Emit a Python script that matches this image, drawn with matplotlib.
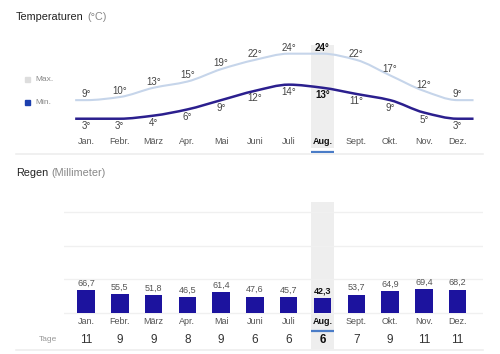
import matplotlib
matplotlib.use("Agg")
import matplotlib.pyplot as plt
import numpy as np
from matplotlib.path import Path
from matplotlib.patches import PathPatch, Rectangle
from matplotlib.lines import Line2D

plt.rcParams['font.family'] = ['Liberation Sans', 'DejaVu Sans']

# data
months = ['Jan.', 'Febr.', 'März', 'Apr.', 'Mai', 'Juni', 'Juli', 'Aug.', 'Sept.', 'Okt.', 'Nov.', 'Dez.']
temp_max = [9, 10, 13, 15, 19, 22, 24, 24, 22, 17, 12, 9]
temp_min = [3, 3, 4, 6, 9, 12, 14, 13, 11, 9, 5, 3]
rain_mm = [66.7, 55.5, 51.8, 46.5, 61.4, 47.6, 45.7, 42.3, 53.7, 64.9, 69.4, 68.2]
rain_days = [11, 9, 9, 8, 9, 6, 6, 6, 7, 9, 11, 11]
selected = 7  # Aug.

W, H = 500, 354
fig = plt.figure(figsize=(W / 100, H / 100), dpi=100, facecolor='white')


def fx(px):
    return px / W


def fy(py):
    return 1 - py / H


def smooth_path(xs, ys):
    """monotone cubic through the points, as a bezier path"""
    xs = np.asarray(xs, float)
    ys = np.asarray(ys, float)
    h = np.diff(xs)
    d = np.diff(ys) / h
    m = np.zeros(len(xs))
    for k in range(1, len(xs) - 1):
        if d[k - 1] * d[k] > 0:
            w1 = 2 * h[k] + h[k - 1]
            w2 = h[k] + 2 * h[k - 1]
            m[k] = (w1 + w2) / (w1 / d[k - 1] + w2 / d[k])
    verts = [(xs[0], ys[0])]
    codes = [Path.MOVETO]
    for i in range(len(xs) - 1):
        verts += [(xs[i] + h[i] / 3, ys[i] + m[i] * h[i] / 3),
                  (xs[i + 1] - h[i] / 3, ys[i + 1] - m[i + 1] * h[i] / 3),
                  (xs[i + 1], ys[i + 1])]
        codes += [Path.CURVE4] * 3
    return Path(verts, codes)


x = np.arange(len(months))
xlim = (-0.65, 11.75)
ax_left, ax_right = 64, 483

# ---------------- temperatures ----------------
ax_t = fig.add_axes([fx(ax_left), fy(148), fx(ax_right - ax_left), fy(45) - fy(148)])
ax_t.set_xlim(*xlim)
ax_t.set_ylim(-6.45, 26.8)
ax_t.axis('off')

ax_t.axvspan(selected - 0.33, selected + 0.33, color='#eeeeee', lw=0, zorder=0)

# lines run a bit past the first and last month, flat
xe = np.concatenate([[-0.32], x, [11.47]])
for vals, col, lw in [(temp_max, '#c6d5ea', 1.5), (temp_min, '#2b1f8e', 1.8)]:
    ye = np.concatenate([[vals[0]], vals, [vals[-1]]])
    ax_t.add_patch(PathPatch(smooth_path(xe, ye), fill=False, edgecolor=col, lw=lw,
                             transform=ax_t.transData, zorder=2, capstyle='butt'))

for i in x:
    sel = i == selected
    kw = dict(fontsize=7, ha='center', va='center',
              color='#111111' if sel else '#444444',
              fontweight='bold' if sel else 'normal')
    ax_t.annotate(f'{temp_max[i]}°', (i, temp_max[i]), xytext=(0, 4.4),
                  textcoords='offset points', **kw)
    ax_t.annotate(f'{temp_min[i]}°', (i, temp_min[i]), xytext=(0, -5.4),
                  textcoords='offset points', **kw)
    ax_t.text(i, -4.2, months[i], fontsize=6.5, ha='center', va='center',
              color='#111111' if sel else '#555555',
              fontweight='bold' if sel else 'normal')

ax_t.plot([selected - 0.33, selected + 0.33], [-7.75, -7.75], color='#4a7cc7',
          lw=1.6, clip_on=False, solid_capstyle='butt')

# legend
fig.add_artist(Rectangle((fx(25), fy(82)), fx(5), fy(77) - fy(82), color='#dddddd',
                         transform=fig.transFigure))
fig.add_artist(Rectangle((fx(25), fy(105)), fx(5), fy(100) - fy(105), color='#1c3fae',
                         transform=fig.transFigure))
fig.text(fx(35), fy(79.5), 'Max.', fontsize=6, color='#888888', va='center')
fig.text(fx(35), fy(102.5), 'Min.', fontsize=6, color='#888888', va='center')

fig.add_artist(Line2D([fx(16), fx(483)], [fy(153.5), fy(153.5)], color='#eeeeee', lw=1.2))

# ---------------- rain ----------------
ax_r = fig.add_axes([fx(ax_left), fy(349), fx(ax_right - ax_left), fy(202) - fy(349)])
ax_r.set_xlim(*xlim)
ax_r.set_ylim(-109, 330)
ax_r.axis('off')

ax_r.axvspan(selected - 0.33, selected + 0.33, color='#eeeeee', lw=0, zorder=0)
for g in [0, 100, 200, 300]:
    ax_r.axhline(g, color='#f0f0f0', lw=1, zorder=0.5)

ax_r.bar(x, rain_mm, width=0.52, color='#1c139e', zorder=2)

for i in x:
    sel = i == selected
    ax_r.annotate(f'{rain_mm[i]:.1f}'.replace('.', ','), (i, rain_mm[i]), xytext=(0, 5),
                  textcoords='offset points', fontsize=6.5, ha='center', va='center',
                  color='#111111' if sel else '#555555',
                  fontweight='bold' if sel else 'normal')
    ax_r.text(i, -26, months[i], fontsize=6.5, ha='center', va='center',
              color='#111111' if sel else '#555555',
              fontweight='bold' if sel else 'normal')
    ax_r.text(i, -82, str(rain_days[i]), fontsize=8.5, ha='center', va='center',
              color='#111111' if sel else '#333333',
              fontweight='bold' if sel else 'normal')

ax_r.plot([selected - 0.33, selected + 0.33], [-55, -55], color='#4a7cc7',
          lw=1.6, solid_capstyle='butt')
ax_r.text(-1.12, -82, 'Tage', fontsize=6, ha='center', va='center', color='#999999')

fig.add_artist(Line2D([fx(16), fx(483)], [fy(349.5), fy(349.5)], color='#eeeeee', lw=1.2))

# section titles, unit in gray right after the name
t1 = fig.text(fx(16), fy(17), 'Temperaturen', fontsize=7.8, color='#222222', va='center')
t2 = fig.text(fx(16), fy(173), 'Regen', fontsize=7.8, color='#222222', va='center')
for t, sub in [(t1, '(°C)'), (t2, '(Millimeter)')]:
    ax_t.annotate(sub, xy=(1, 0.5), xycoords=t, xytext=(2.5, 0), textcoords='offset points',
                  fontsize=7.8, color='#888888', va='center', ha='left', annotation_clip=False)

fig.savefig('out.png', dpi=100, facecolor='white')
